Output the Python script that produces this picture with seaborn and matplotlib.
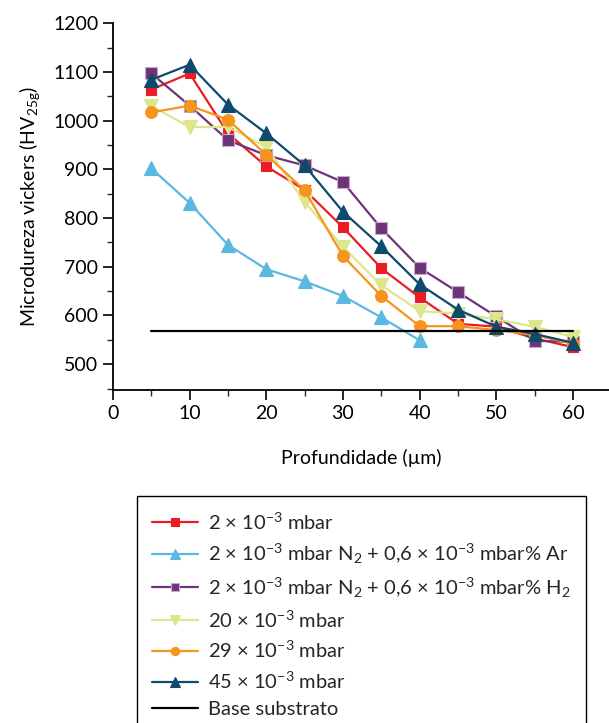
import numpy as np
import pandas as pd
import matplotlib
matplotlib.use("Agg")
import matplotlib.pyplot as plt
from matplotlib.ticker import MultipleLocator
import seaborn as sns

sns.set_theme(style="ticks")
plt.rcParams['font.family'] = ['Lato', 'DejaVu Sans']
plt.rcParams['mathtext.fontset'] = 'custom'
plt.rcParams['mathtext.rm'] = 'Lato'
plt.rcParams['mathtext.it'] = 'Lato:italic'
plt.rcParams['mathtext.bf'] = 'Lato:bold'

depth = [5, 10, 15, 20, 25, 30, 35, 40, 45, 50, 55, 60]
depth_ar = [5, 10, 15, 20, 25, 30, 35, 40]

hv_2 = [1064, 1097, 974, 906, 858, 781, 697, 637, 583, 577, 553, 535]
hv_ar = [902, 831, 745, 695, 670, 640, 596, 549]
hv_h2 = [1097, 1031, 960, 929, 908, 874, 779, 698, 648, 598, 548, 546]
hv_20 = [1030, 987, 987, 946, 833, 741, 662, 609, 604, 592, 577, 556]
hv_29 = [1017, 1031, 1002, 930, 857, 722, 640, 578, 578, 570, 560, 542]
hv_45 = [1084, 1115, 1033, 974, 908, 813, 742, 664, 612, 577, 562, 544]
base_x = [5, 60]
base_y = [568, 568]

labels = [
    r"2 × 10$^{-3}$ mbar",
    r"2 × 10$^{-3}$ mbar N$_2$ + 0,6 × 10$^{-3}$ mbar% Ar",
    r"2 × 10$^{-3}$ mbar N$_2$ + 0,6 × 10$^{-3}$ mbar% H$_2$",
    r"20 × 10$^{-3}$ mbar",
    r"29 × 10$^{-3}$ mbar",
    r"45 × 10$^{-3}$ mbar",
    "Base substrato",
]

series = [
    (depth, hv_2, "#ED1C24", "s", 7.5, "#ED1C24"),
    (depth_ar, hv_ar, "#5BB8E0", "^", 9.5, "#5BB8E0"),
    (depth, hv_h2, "#6D3577", "s", 8.5, "#C9A6CF"),
    (depth, hv_20, "#DCE68A", "v", 9.5, "#DCE68A"),
    (depth, hv_29, "#F7941D", "o", 8.5, "#F7941D"),
    (depth, hv_45, "#0E4A6C", "^", 9.5, "#0E4A6C"),
]

fig = plt.figure(figsize=(6.09, 7.23), dpi=100)
ax = fig.add_axes([113/609, 1-390/723, (609-113)/609, (390-23.3)/723])

for (xs, ys, col, mk, ms, ec), lab in zip(series, labels[:6]):
    sns.lineplot(x=xs, y=ys, ax=ax, color=col, marker=mk, markersize=ms,
                 markeredgecolor=ec, markeredgewidth=0.8, linewidth=1.6,
                 label=lab, legend=False)
sns.lineplot(x=base_x, y=base_y, ax=ax, color="black", linewidth=1.6,
             label=labels[6], legend=False)

ax.set_xlim(0, 64.7)
ax.set_ylim(447, 1200)
ax.xaxis.set_major_locator(MultipleLocator(10))
ax.xaxis.set_minor_locator(MultipleLocator(5))
ax.yaxis.set_minor_locator(MultipleLocator(50))
ax.set_yticks([500, 600, 700, 800, 900, 1000, 1100, 1200])
ax.tick_params(which="major", direction="out", length=7, width=1.2, labelsize=14, colors="black")
ax.tick_params(which="minor", direction="out", length=4, width=1.0)
sns.despine(ax=ax)
for s in ("left", "bottom"):
    ax.spines[s].set_linewidth(1.3)
    ax.spines[s].set_color("black")

ax.set_xlabel("Profundidade (µm)", fontsize=14, labelpad=20, color="black")
ax.set_ylabel(r"Microdureza vickers (HV$_{\mathrm{25g}}$)", fontsize=14, labelpad=8, color="black")

handles, labs = ax.get_legend_handles_labels()
leg = fig.legend(handles, labs, loc="upper left",
                 bbox_to_anchor=(137/609, 1-496/723), bbox_transform=fig.transFigure,
                 borderaxespad=0, fontsize=14.5, frameon=True, fancybox=False,
                 edgecolor="black", framealpha=1, handlelength=2.3, handletextpad=0.5,
                 labelspacing=0.47, borderpad=0.75, markerscale=0.7)
leg.get_frame().set_linewidth(1.0)

fig.savefig("out.png", dpi=100)
